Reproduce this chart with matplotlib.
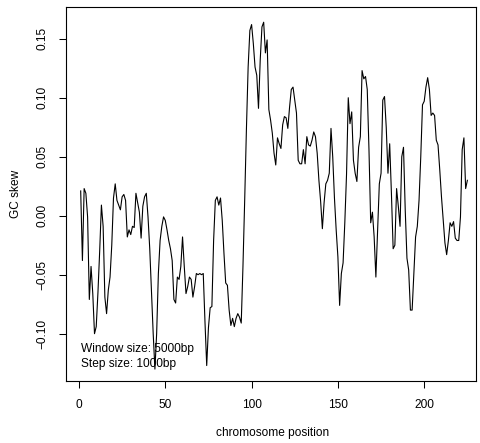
import matplotlib
matplotlib.use("Agg")
import matplotlib.pyplot as plt

positions = list(range(1, 226))
gc_skew = [
    0.021, -0.038, 0.023, 0.019, -0.001, -0.071, -0.043, -0.066, -0.100, -0.094,
    -0.065, -0.030, 0.009, -0.009, -0.069, -0.083, -0.063, -0.052, -0.025, 0.015,
    0.027, 0.013, 0.009, 0.005, 0.016, 0.018, 0.013, -0.018, -0.012, -0.016,
    -0.009, -0.010, 0.019, 0.011, 0.003, -0.019, 0.008, 0.016, 0.019, -0.001,
    -0.028, -0.065, -0.100, -0.130, -0.100, -0.049, -0.021, -0.009, -0.001, -0.004,
    -0.012, -0.021, -0.028, -0.038, -0.071, -0.074, -0.052, -0.054, -0.043, -0.018,
    -0.043, -0.066, -0.060, -0.052, -0.054, -0.069, -0.060, -0.049, -0.050, -0.049,
    -0.050, -0.049, -0.090, -0.127, -0.095, -0.078, -0.077, -0.021, 0.013, 0.016,
    0.009, 0.015, -0.004, -0.032, -0.057, -0.059, -0.080, -0.093, -0.087, -0.094,
    -0.087, -0.083, -0.086, -0.091, -0.043, 0.013, 0.073, 0.126, 0.157, 0.162,
    0.146, 0.126, 0.119, 0.091, 0.132, 0.160, 0.164, 0.138, 0.149, 0.090,
    0.081, 0.070, 0.053, 0.043, 0.066, 0.061, 0.057, 0.077, 0.084, 0.083,
    0.074, 0.092, 0.107, 0.109, 0.098, 0.087, 0.047, 0.044, 0.044, 0.056,
    0.044, 0.067, 0.060, 0.059, 0.064, 0.071, 0.067, 0.053, 0.030, 0.012,
    -0.011, 0.011, 0.027, 0.030, 0.036, 0.074, 0.050, 0.015, -0.012, -0.035,
    -0.076, -0.049, -0.040, -0.006, 0.035, 0.100, 0.078, 0.088, 0.047, 0.036,
    0.029, 0.058, 0.067, 0.123, 0.116, 0.118, 0.107, 0.056, -0.006, 0.003,
    -0.018, -0.052, -0.012, 0.027, 0.036, 0.098, 0.101, 0.075, 0.036, 0.061,
    0.019, -0.028, -0.025, 0.023, 0.008, -0.009, 0.050, 0.058, 0.005, -0.036,
    -0.046, -0.080, -0.080, -0.049, -0.018, -0.009, 0.013, 0.050, 0.094, 0.097,
    0.109, 0.117, 0.107, 0.085, 0.087, 0.085, 0.064, 0.060, 0.039, 0.016,
    -0.004, -0.023, -0.033, -0.021, -0.006, -0.009, -0.005, -0.019, -0.021, -0.021,
    -0.001, 0.056, 0.066, 0.023, 0.030,
]
x_ticks = [0, 50, 100, 150, 200]
y_ticks = [-0.10, -0.05, 0.00, 0.05, 0.10, 0.15]
y_tick_labels = ["\u22120.10", "\u22120.05", "0.00", "0.05", "0.10", "0.15"]
annotation = ["Window size: 5000bp", "Step size: 1000bp"]

plt.rcParams['font.family'] = ['Liberation Sans', 'DejaVu Sans']
W, H = 481, 443
fig = plt.figure(figsize=(W / 100, H / 100), dpi=100)
left, right, top, bottom = 65.5, 476, 7, 381
ax = fig.add_axes([left / W, 1 - bottom / H, (right - left) / W, (bottom - top) / H])

ax.plot(positions, gc_skew, color='black', lw=0.8)

ax.set_xlim(-7.8, 230.0)
ax.set_ylim(-0.1401, 0.1769)
ax.set_xticks(x_ticks)
ax.set_xticklabels([str(t) for t in x_ticks])
ax.set_yticks(y_ticks)
ax.set_yticklabels(y_tick_labels, rotation=90, va='center')
ax.tick_params(axis='both', direction='out', length=5.2, width=0.75,
               labelsize=8.6, colors='black')
ax.tick_params(axis='x', pad=8.0)
ax.tick_params(axis='y', pad=7.0)
for s in ax.spines.values():
    s.set_linewidth(0.8)

fig.text(16 / W, 1 - 194 / H, "GC skew", rotation=90, ha='center', va='center', fontsize=8.6)
fig.text((79 + 1.7265 * 112) / W, 1 - 433 / H, "chromosome position", ha='center', va='center', fontsize=8.6)

ax.text(1.2, -0.1127, annotation[0], ha='left', va='center', fontsize=8.6)
ax.text(1.2, -0.1253, annotation[1], ha='left', va='center', fontsize=8.6)

fig.savefig("out.png", dpi=100)
